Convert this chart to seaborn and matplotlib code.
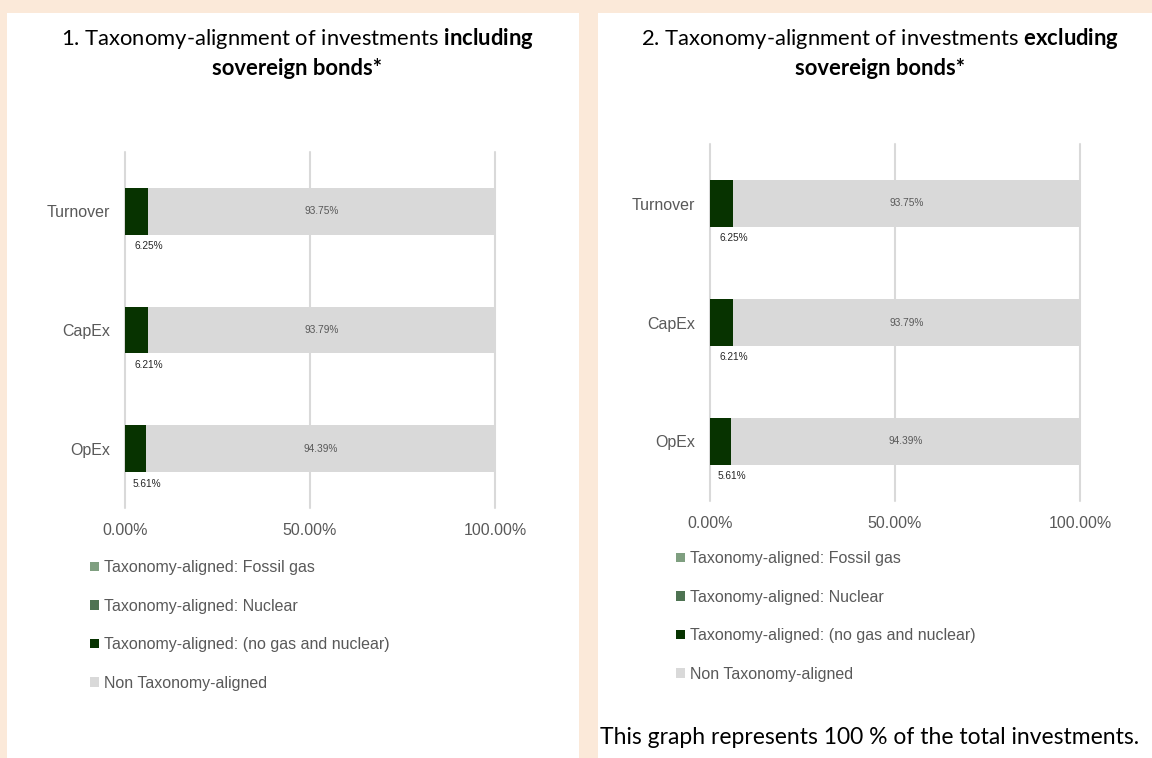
import matplotlib
matplotlib.use('Agg')
import matplotlib.pyplot as plt
import seaborn as sns
import pandas as pd
from matplotlib.patches import Patch, Rectangle

# Données
categories = ['Turnover', 'CapEx', 'OpEx']
fossil_gas = [0.0, 0.0, 0.0]
nuclear = [0.0, 0.0, 0.0]
aligned_incl = [6.25, 6.21, 5.61]
non_aligned_incl = [93.75, 93.79, 94.39]
aligned_excl = [6.25, 6.21, 5.61]
non_aligned_excl = [93.75, 93.79, 94.39]
x_ticks = [0, 50, 100]
x_tick_labels = ['0.00%', '50.00%', '100.00%']
legend_labels = ['Taxonomy-aligned: Fossil gas',
                 'Taxonomy-aligned: Nuclear',
                 'Taxonomy-aligned: (no gas and nuclear)',
                 'Non Taxonomy-aligned']
titles = ['1. Taxonomy-alignment of investments $\\bf{including}$',
          '2. Taxonomy-alignment of investments $\\bf{excluding}$']
title_line2 = 'sovereign bonds*'
footnote = 'This graph represents 100 % of the total investments.'

# Couleurs
beige = '#FBE9D9'
colors = ['#7F9F80', '#4E7352', '#073300', '#D9D9D9']
grey_text = '#595959'

sns.set_style('white')
plt.rcParams['font.family'] = ['Liberation Sans', 'DejaVu Sans']
plt.rcParams['mathtext.fontset'] = 'custom'
plt.rcParams['mathtext.rm'] = 'Lato'
plt.rcParams['mathtext.bf'] = 'Lato:bold'

W, H = 1152, 758
fig = plt.figure(figsize=(W / 100, H / 100), dpi=100, facecolor=beige)

# Panneaux blancs
for x0, x1 in [(7, 579), (598, 1152)]:
    fig.add_artist(Rectangle((x0 / W, 0), (x1 - x0) / W, (H - 13) / H,
                             transform=fig.transFigure, facecolor='white',
                             edgecolor='none', zorder=0))


def draw_panel(rect, aligned, non_aligned, title, title_x, legend_xy):
    ax = fig.add_axes([rect[0] / W, 1 - rect[3] / H,
                       (rect[2] - rect[0]) / W, (rect[3] - rect[1]) / H])
    ax.set_facecolor('none')
    df = pd.DataFrame({'cat': categories, 'fossil': fossil_gas,
                       'nuclear': nuclear, 'aligned': aligned,
                       'non': non_aligned})
    # empilement: on dessine les cumuls du plus grand au plus petit
    df['c1'] = df['fossil']
    df['c2'] = df['c1'] + df['nuclear']
    df['c3'] = df['c2'] + df['aligned']
    df['c4'] = df['c3'] + df['non']
    for col, color in zip(['c4', 'c3', 'c2', 'c1'], colors[::-1]):
        sns.barplot(data=df, x=col, y='cat', color=color, width=0.395,
                    saturation=1, errorbar=None, linewidth=0, orient='h', ax=ax)

    for i, row in df.iterrows():
        ax.text((row['c3'] + row['c4']) / 2, i, f"{row['non']:.2f}%",
                ha='center', va='center', fontsize=7.3, color=grey_text)
        ax.text(row['c3'] + 0.3, i + 0.294, f"{row['aligned']:.2f}%",
                ha='center', va='center', fontsize=7.3, color='#262626')

    ax.set_xlim(0, 100)
    ax.set_ylim(2.5, -0.5)
    ax.set_xticks(x_ticks)
    ax.set_xticklabels(x_tick_labels)
    ax.set_xlabel('')
    ax.set_ylabel('')
    ax.tick_params(axis='x', length=0, pad=10.5, labelsize=11.5, labelcolor=grey_text)
    ax.tick_params(axis='y', length=0, pad=11, labelsize=11.5, labelcolor=grey_text)
    ax.set_axisbelow(True)
    ax.grid(axis='x', color='#D9D9D9', linewidth=1.5)
    ax.grid(axis='y', visible=False)
    for gl in ax.get_xgridlines():
        gl.set_clip_on(False)
    sns.despine(ax=ax, left=True, bottom=True)

    fig.text(title_x / W, 1 - 45 / H, title, ha='center', va='baseline',
             fontsize=15.8, family='Lato', color='black')
    fig.text(title_x / W, 1 - 75 / H, title_line2, ha='center', va='baseline',
             fontsize=15.8, family='Lato', fontweight='bold', color='black')

    handles = [Patch(facecolor=c, edgecolor='none') for c in colors]
    fig.legend(handles, legend_labels, loc='upper left',
               bbox_to_anchor=(legend_xy[0] / W, 1 - legend_xy[1] / H),
               frameon=False, fontsize=11.5, labelcolor=grey_text,
               handlelength=0.55, handleheight=0.55, handletextpad=0.35,
               labelspacing=1.48, borderaxespad=0, borderpad=0)
    return ax


draw_panel((125, 152, 495, 508), aligned_incl, non_aligned_incl,
           titles[0], 297, (90, 560))
draw_panel((710, 144, 1080, 501), aligned_excl, non_aligned_excl,
           titles[1], 880, (676, 551))

fig.text(600 / W, 1 - 744 / H, footnote, ha='left', va='baseline',
         fontsize=16.5, family='Lato', color='black')

fig.savefig('out.png', dpi=100, facecolor=beige)
